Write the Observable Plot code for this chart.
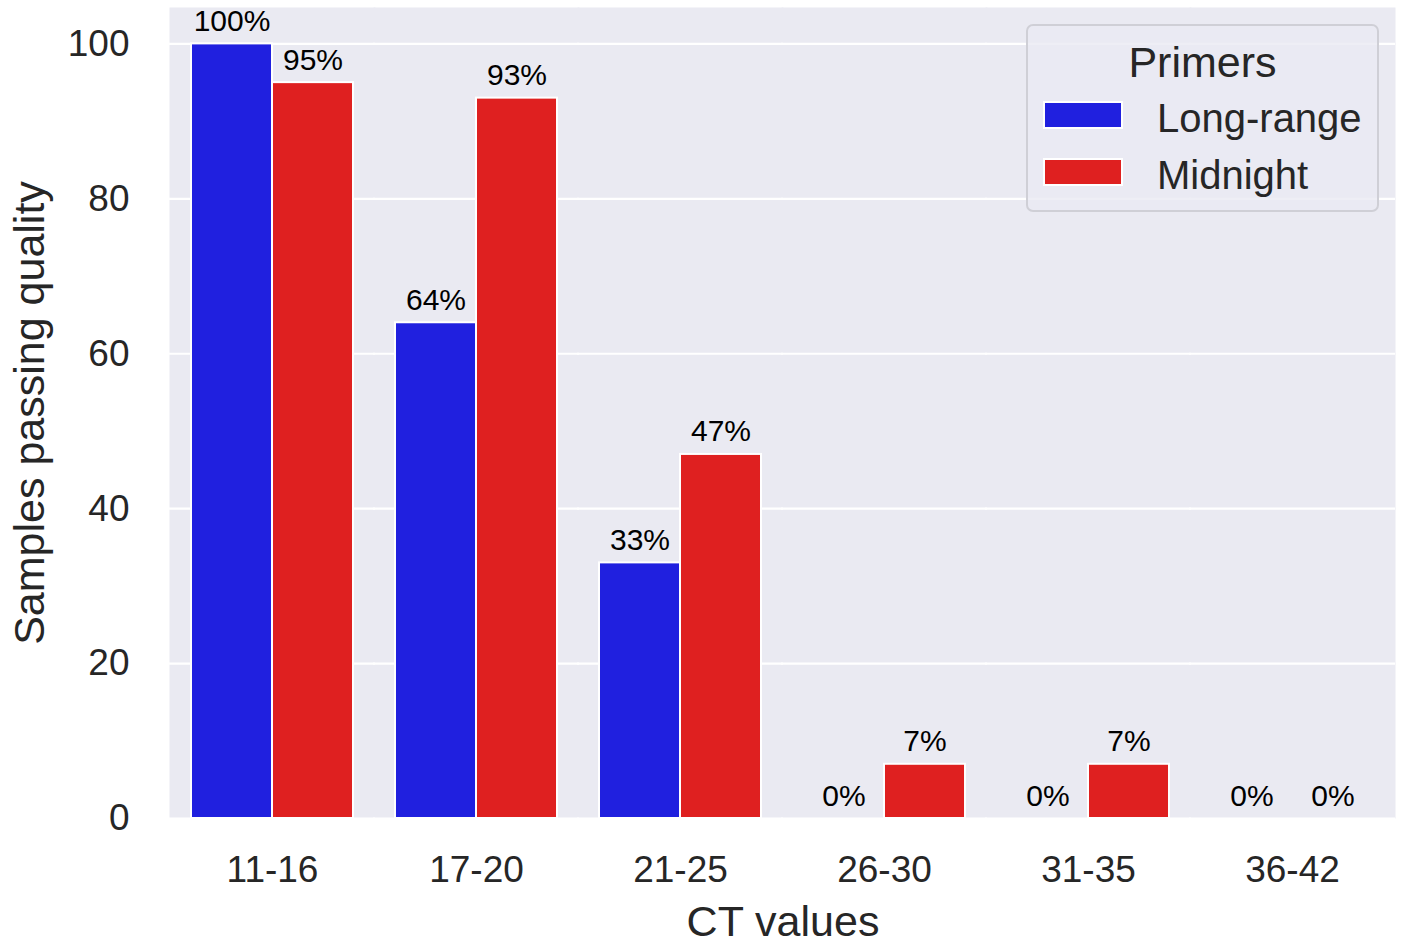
<!DOCTYPE html>
<html>
<head>
<meta charset="utf-8">
<script src="https://cdn.jsdelivr.net/npm/d3@7"></script>
<script src="https://cdn.jsdelivr.net/npm/@observablehq/plot@0.6"></script>
<style>
  html, body { margin: 0; padding: 0; background: white; }
  #wrap { position: relative; width: 1414px; height: 941px; overflow: hidden;
          font-family: "Liberation Sans", Arial, sans-serif; color: #262626; }
  .axis-title { position: absolute; font-size: 43px; line-height: 0.85; white-space: nowrap; }
  #legend { position: absolute; left: 1026px; top: 24px; width: 349px; height: 184px;
            background: rgba(234,234,242,0.8); border: 2px solid #cfcfd6; border-radius: 7px; }
  #legend .title { position: absolute; left: 0; width: 100%; top: 36px; text-align: center;
                   font-size: 43px; line-height: 0; }
  #legend .sw { position: absolute; left: 15px; width: 80px; height: 28px; box-sizing: border-box;
                border: 2px solid white; }
  #legend .lab { position: absolute; left: 129px; font-size: 40px; line-height: 0; white-space: nowrap; }
</style>
</head>
<body>
<div id="wrap"></div>
<script>
const categories = ["11-16", "17-20", "21-25", "26-30", "31-35", "36-42"];
const primers = ["Long-range", "Midnight"];
const colors = ["#2020df", "#df2020"];
const longRange = [100, 64, 33, 0, 0, 0];
const midnight = [95, 93, 47, 7, 7, 0];
const yTicks = [0, 20, 40, 60, 80, 100];
const xTitle = "CT values";
const yTitle = "Samples passing quality";
const legendTitle = "Primers";

const data = categories.flatMap((c, i) => [
  {ct: c, primer: primers[0], value: longRange[i]},
  {ct: c, primer: primers[1], value: midnight[i]}
]);

const chart = Plot.plot({
  width: 1414,
  height: 941,
  marginLeft: 170,
  marginRight: 20,
  marginTop: 7,
  marginBottom: 123,
  style: {fontFamily: "'Liberation Sans', Arial, sans-serif", fontSize: "37px", color: "#262626", background: "white"},
  fx: {domain: categories, paddingInner: 0, paddingOuter: 0, round: true, label: null, tickSize: 0, tickPadding: 37},
  x: {domain: primers, paddingInner: 0, paddingOuter: 0.25, axis: null},
  y: {domain: [0, 104.7], ticks: yTicks, label: null, tickSize: 0, tickPadding: 41},
  color: {domain: primers, range: colors},
  marks: [
    Plot.frame({fill: "#eaeaf2", stroke: "none", insetLeft: -1, insetRight: -1}),
    Plot.ruleY(yTicks, {stroke: "white", strokeWidth: 2.2, insetLeft: -1, insetRight: -1}),
    Plot.barY(data, {fx: "ct", x: "primer", y: "value", fill: "primer", stroke: "white", strokeWidth: 2}),
    Plot.text(data, {fx: "ct", x: "primer", y: "value", text: d => d.value + "%", dy: -13,
      lineAnchor: "bottom", fontSize: 30, fill: "black"})
  ]
});

const wrap = document.getElementById("wrap");
wrap.appendChild(chart);

// axis titles
const xt = document.createElement("div");
xt.className = "axis-title";
xt.textContent = xTitle;
xt.style.left = "783px";
xt.style.top = "903px";
xt.style.transform = "translateX(-50%)";
wrap.appendChild(xt);

const yt = document.createElement("div");
yt.className = "axis-title";
yt.textContent = yTitle;
yt.style.left = "29px";
yt.style.top = "413px";
yt.style.transform = "translate(-50%, -50%) rotate(-90deg)";
wrap.appendChild(yt);

// legend
const lg = document.createElement("div");
lg.id = "legend";
const t = document.createElement("div");
t.className = "title";
t.textContent = legendTitle;
lg.appendChild(t);
primers.forEach((p, i) => {
  const sw = document.createElement("div");
  sw.className = "sw";
  sw.style.top = (75 + i * 57) + "px";
  sw.style.background = colors[i];
  lg.appendChild(sw);
  const lb = document.createElement("div");
  lb.className = "lab";
  lb.style.top = (92 + i * 57) + "px";
  lb.textContent = p;
  lg.appendChild(lb);
});
wrap.appendChild(lg);
</script>
</body>
</html>
